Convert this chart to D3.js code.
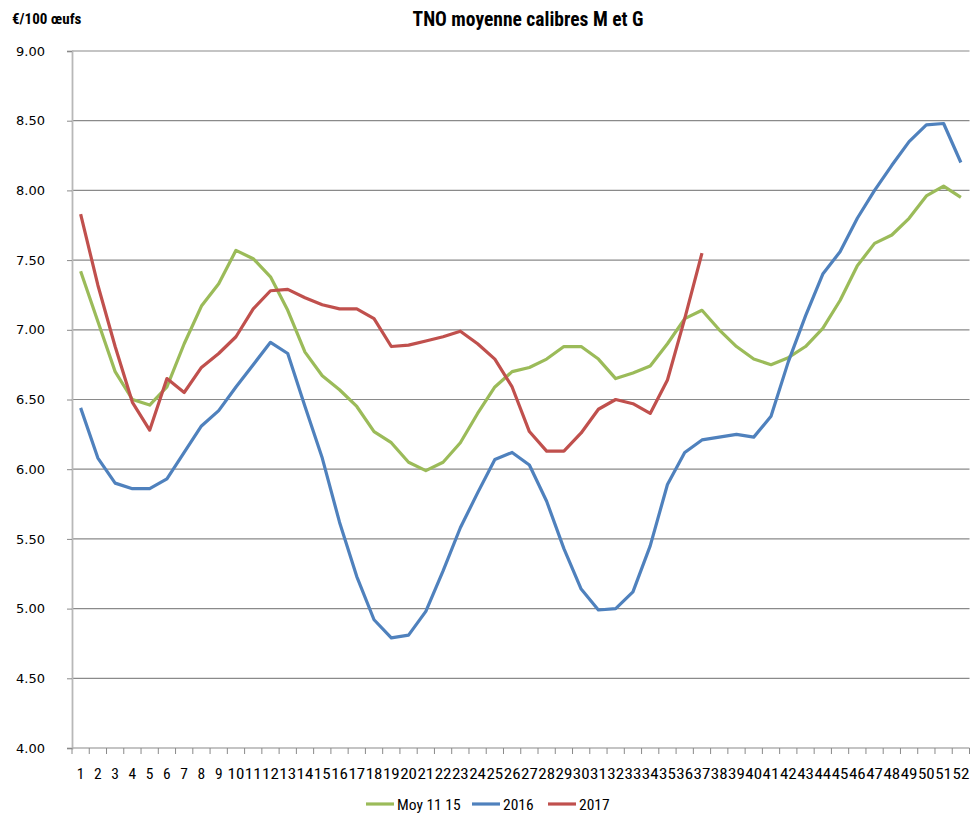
<!DOCTYPE html>
<html><head><meta charset="utf-8">
<script src="https://cdn.jsdelivr.net/npm/d3@7"></script>
<style>body{margin:0;background:#fff}svg{display:block}</style>
</head><body>
<script>
const weeks = d3.range(1, 53);
const moy1115 = [7.42,7.06,6.70,6.50,6.46,6.59,6.90,7.17,7.33,7.57,7.51,7.38,7.14,6.84,6.67,6.57,6.45,6.27,6.19,6.05,5.99,6.05,6.19,6.40,6.59,6.70,6.73,6.79,6.88,6.88,6.79,6.65,6.69,6.74,6.90,7.08,7.14,7.00,6.88,6.79,6.75,6.80,6.88,7.01,7.21,7.46,7.62,7.68,7.80,7.96,8.03,7.95];
const y2016 = [6.44,6.08,5.90,5.86,5.86,5.93,6.12,6.31,6.42,6.59,6.75,6.91,6.83,6.45,6.08,5.62,5.23,4.92,4.79,4.81,4.98,5.27,5.58,5.83,6.07,6.12,6.03,5.77,5.43,5.14,4.99,5.00,5.12,5.45,5.89,6.12,6.21,6.23,6.25,6.23,6.38,6.77,7.10,7.40,7.56,7.80,8.00,8.18,8.35,8.47,8.48,8.20];
const y2017 = [7.83,7.32,6.88,6.48,6.28,6.65,6.55,6.73,6.83,6.95,7.15,7.28,7.29,7.23,7.18,7.15,7.15,7.08,6.88,6.89,6.92,6.95,6.99,6.90,6.79,6.59,6.27,6.13,6.13,6.26,6.43,6.50,6.47,6.40,6.64,7.08,7.55];
const yTicks = [4,4.5,5,5.5,6,6.5,7,7.5,8,8.5,9];
const seriesNames = ["Moy 11 15","2016","2017"];
const seriesColors = ["#9BBB59","#4F81BD","#C0504D"];
const chartTitle = "TNO moyenne calibres M et G";
const yUnit = "€/100 œufs";

(function(){
const W = 971, H = 813;
const svg = d3.select("body").append("svg").attr("width", W).attr("height", H);
const pl = 72, pr = 969.5, pt = 51, pb = 748;
const x = d3.scaleBand().domain(weeks).range([pl, pr]);
const y = d3.scaleLinear().domain([4, 9]).range([pb, pt]);
const cx = w => x(w) + x.bandwidth() / 2;
const condensed = "'Liberation Sans Narrow','Arial Narrow','Roboto Condensed',sans-serif";

// gridlines
svg.append("g").selectAll("line").data(yTicks.filter(t => t > 4)).join("line")
  .attr("x1", pl).attr("x2", pr).attr("y1", d => y(d)).attr("y2", d => y(d))
  .attr("stroke", "#8a8a8a").attr("stroke-width", 1.2);

// y axis
const ya = svg.append("g").attr("transform", `translate(${pl},0)`)
  .call(d3.axisLeft(y).tickValues(yTicks).tickFormat(d3.format(".2f")).tickSize(5).tickPadding(22));
ya.select(".domain").attr("stroke", "#b8b8b8").attr("stroke-width", 1.8);
ya.selectAll(".tick line").attr("stroke", "#8a8a8a");
ya.selectAll("text").attr("font-family", "'DejaVu Sans',sans-serif").attr("font-size", 13).attr("fill", "#000");

// x axis
svg.append("line").attr("x1", pl).attr("x2", pr).attr("y1", pb).attr("y2", pb)
  .attr("stroke", "#b0b0b0").attr("stroke-width", 1.5);
svg.append("g").selectAll("line").data(weeks.concat([53])).join("line")
  .attr("x1", d => d === 53 ? pr : x(d)).attr("x2", d => d === 53 ? pr : x(d))
  .attr("y1", pb).attr("y2", pb + 6).attr("stroke", "#8a8a8a");
const xa = svg.append("g").attr("transform", `translate(0,${pb})`)
  .call(d3.axisBottom(x).tickSize(0).tickPadding(20));
xa.select(".domain").remove();
xa.selectAll("text").attr("font-family", condensed).attr("font-size", 15.5).attr("fill", "#000")
  .each(function(d){ if (d >= 10) d3.select(this).attr("textLength", 16.8).attr("lengthAdjust", "spacingAndGlyphs"); });

// lines
const line = d3.line().x((d, i) => cx(weeks[i])).y(d => y(d));
[moy1115, y2016, y2017].forEach((s, i) => {
  svg.append("path").datum(s).attr("d", line).attr("fill", "none")
    .attr("stroke", seriesColors[i]).attr("stroke-width", 3.2).attr("stroke-linejoin", "round");
});

// title
svg.append("text").attr("x", 528).attr("y", 26).attr("text-anchor", "middle")
  .attr("font-family", condensed).attr("font-weight", "bold").attr("font-size", 19.5).text(chartTitle);
svg.append("text").attr("x", 12).attr("y", 24)
  .attr("font-family", condensed).attr("font-weight", "bold").attr("font-size", 15).text(yUnit);

// legend
const legX = [366, 472, 548];
const lg = svg.append("g");
seriesNames.forEach((n, i) => {
  lg.append("line").attr("x1", legX[i]).attr("x2", legX[i] + 28).attr("y1", 804).attr("y2", 804)
    .attr("stroke", seriesColors[i]).attr("stroke-width", 3.2);
  lg.append("text").attr("x", legX[i] + 31).attr("y", 809.5).attr("font-family", condensed)
    .attr("font-size", 15.5).text(n);
});
})();
</script>
</body></html>
